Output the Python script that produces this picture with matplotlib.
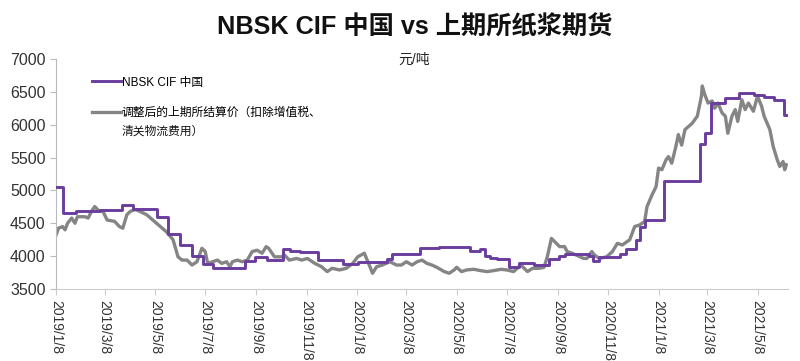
import pandas as pd
import matplotlib
matplotlib.use("Agg")
import matplotlib.pyplot as plt

plt.rcParams['font.family'] = ['Liberation Sans', 'Noto Sans CJK SC', 'DejaVu Sans']

# NBSK CIF 中国 (周度报价, 阶梯线)
nbsk_dates = ['2019-01-08', '2019-01-16', '2019-02-01', '2019-02-18', '2019-03-02',
              '2019-03-29', '2019-04-11', '2019-05-10', '2019-05-24', '2019-06-07',
              '2019-06-22', '2019-07-05', '2019-07-18', '2019-08-25', '2019-09-06',
              '2019-09-21', '2019-10-10', '2019-10-19', '2019-10-31', '2019-11-22',
              '2019-12-22', '2020-01-09', '2020-02-13', '2020-02-20', '2020-03-24',
              '2020-04-17', '2020-05-24', '2020-06-05', '2020-06-11', '2020-06-17',
              '2020-06-26', '2020-07-11', '2020-07-23', '2020-08-10', '2020-08-28',
              '2020-09-09', '2020-09-17', '2020-10-16', '2020-10-20', '2020-10-28',
              '2020-11-22', '2020-11-30', '2020-12-12', '2020-12-17', '2020-12-22',
              '2021-01-15', '2021-02-27', '2021-03-05', '2021-03-12', '2021-03-29',
              '2021-04-16', '2021-05-04', '2021-05-16', '2021-05-28', '2021-06-09',
              '2021-06-12']
nbsk_vals = [5050, 4660, 4690, 4680, 4700,
             4780, 4710, 4600, 4330, 4170,
             4000, 3880, 3820, 3920, 3980,
             3940, 4110, 4080, 4060, 3940,
             3880, 3910, 3950, 4040, 4120,
             4145, 4080, 4110, 4000, 3970,
             3950, 3830, 3890, 3870, 3950,
             4000, 4030, 4000, 3920, 3990,
             4030, 4110, 4250, 4450, 4550,
             5140, 5700, 5870, 6330, 6400,
             6490, 6450, 6420, 6380, 6150,
             6150]

# 调整后的上期所结算价
shfe_dates = ['2019-01-08', '2019-01-11', '2019-01-16', '2019-01-19', '2019-01-22',
              '2019-01-27', '2019-01-31', '2019-02-03', '2019-02-12', '2019-02-16',
              '2019-02-20', '2019-02-24', '2019-02-28', '2019-03-06', '2019-03-11',
              '2019-03-20', '2019-03-26', '2019-03-30', '2019-04-04', '2019-04-08',
              '2019-04-14', '2019-04-20', '2019-04-28', '2019-05-10', '2019-05-22',
              '2019-05-30', '2019-06-05', '2019-06-10', '2019-06-16', '2019-06-22',
              '2019-06-28', '2019-07-04', '2019-07-08', '2019-07-11', '2019-07-17',
              '2019-07-23', '2019-07-28', '2019-08-03', '2019-08-07', '2019-08-10',
              '2019-08-16', '2019-08-22', '2019-08-28', '2019-09-03', '2019-09-09',
              '2019-09-15', '2019-09-20', '2019-09-23', '2019-09-30', '2019-10-09',
              '2019-10-12', '2019-10-18', '2019-10-27', '2019-11-02', '2019-11-09',
              '2019-11-18', '2019-11-26', '2019-12-03', '2019-12-09', '2019-12-18',
              '2019-12-26', '2020-01-03', '2020-01-09', '2020-01-17', '2020-01-23',
              '2020-01-27', '2020-02-01', '2020-02-08', '2020-02-17', '2020-02-25',
              '2020-03-02', '2020-03-08', '2020-03-15', '2020-03-21', '2020-03-27',
              '2020-04-02', '2020-04-08', '2020-04-14', '2020-04-23', '2020-04-29',
              '2020-05-05', '2020-05-08', '2020-05-14', '2020-05-20', '2020-05-29',
              '2020-06-06', '2020-06-14', '2020-06-22', '2020-07-01', '2020-07-08',
              '2020-07-16', '2020-07-25', '2020-08-02', '2020-08-08', '2020-08-16',
              '2020-08-22', '2020-08-26', '2020-08-31', '2020-09-04', '2020-09-10',
              '2020-09-16', '2020-09-19', '2020-09-25', '2020-10-09', '2020-10-13',
              '2020-10-19', '2020-10-22', '2020-10-28', '2020-11-06', '2020-11-13',
              '2020-11-19', '2020-11-25', '2020-12-04', '2020-12-10', '2020-12-16',
              '2020-12-22', '2020-12-25', '2020-12-31', '2021-01-05', '2021-01-08',
              '2021-01-12', '2021-01-17', '2021-01-20', '2021-01-24', '2021-01-29',
              '2021-02-01', '2021-02-05', '2021-02-09', '2021-02-18', '2021-02-24',
              '2021-03-01', '2021-03-02', '2021-03-05', '2021-03-09', '2021-03-14',
              '2021-03-17', '2021-03-21', '2021-03-26', '2021-03-30', '2021-04-02',
              '2021-04-07', '2021-04-11', '2021-04-14', '2021-04-19', '2021-04-23',
              '2021-04-27', '2021-05-03', '2021-05-08', '2021-05-13', '2021-05-16',
              '2021-05-23', '2021-05-27', '2021-06-01', '2021-06-04', '2021-06-08',
              '2021-06-10', '2021-06-12']
shfe_vals = [4320, 4425, 4450, 4400, 4500,
             4580, 4500, 4600, 4600, 4580,
             4680, 4755, 4700, 4680, 4550,
             4530, 4450, 4425, 4630, 4680,
             4710, 4680, 4630, 4500, 4370,
             4250, 3990, 3940, 3940, 3865,
             3915, 4120, 4070, 3890, 3915,
             3940, 3890, 3915, 3840, 3915,
             3940, 3915, 3940, 4070, 4090,
             4045, 4145, 4120, 3990, 3990,
             4020, 3940, 3965, 3940, 3965,
             3890, 3840, 3765, 3815, 3790,
             3815, 3890, 3990, 4045, 3865,
             3740, 3840, 3865, 3915, 3865,
             3865, 3915, 3865, 3915, 3940,
             3890, 3865, 3830, 3765, 3740,
             3790, 3830, 3765, 3790, 3800,
             3780, 3765, 3780, 3800, 3790,
             3765, 3865, 3765, 3815, 3815,
             3830, 3990, 4270, 4220, 4145,
             4145, 4070, 4045, 3965, 3965,
             4070, 4020, 3965, 3990, 4070,
             4195, 4170, 4250, 4450, 4475,
             4525, 4755, 4930, 5060, 5340,
             5315, 5465, 5515, 5415, 5670,
             5850, 5690, 5925, 6025, 6130,
             6435, 6590, 6460, 6330, 6360,
             6250, 6330, 6180, 6130, 5870,
             6130, 6230, 6050, 6380, 6230,
             6330, 6205, 6435, 6280, 6130,
             5925, 5670, 5465, 5365, 5440,
             5315, 5390]

tick_dates = ['2019-01-08', '2019-03-08', '2019-05-08', '2019-07-08', '2019-09-08',
              '2019-11-08', '2020-01-08', '2020-03-08', '2020-05-08', '2020-07-08',
              '2020-09-08', '2020-11-08', '2021-01-08', '2021-03-08', '2021-05-08']
tick_labels = ['2019/1/8', '2019/3/8', '2019/5/8', '2019/7/8', '2019/9/8',
               '2019/11/8', '2020/1/8', '2020/3/8', '2020/5/8', '2020/7/8',
               '2020/9/8', '2020/11/8', '2021/1/8', '2021/3/8', '2021/5/8']
y_ticks = [3500, 4000, 4500, 5000, 5500, 6000, 6500, 7000]

purple = '#6a3d9e'
grey = '#858585'

fig = plt.figure(figsize=(8, 3.61), dpi=100)
ax = fig.add_axes([0.07, 0.1994, 0.915, 0.6372])

ax.plot(pd.to_datetime(nbsk_dates), nbsk_vals, drawstyle='steps-post',
        color=purple, lw=2.1, label='NBSK CIF 中国', zorder=3)
ax.plot(pd.to_datetime(shfe_dates), shfe_vals, color=grey, lw=2.4,
        label='调整后的上期所结算价（扣除增值税、', zorder=2)

ax.set_ylim(3500, 7000)
ax.set_yticks(y_ticks)
ax.set_xlim(pd.Timestamp('2019-01-08'), pd.Timestamp('2021-06-14'))
ax.set_xticks(pd.to_datetime(tick_dates))
ax.set_xticklabels(tick_labels, rotation=270, fontsize=10, color='#333333')
ax.tick_params(axis='y', labelsize=11.5, colors='#333333', length=4, color='#bbbbbb')
ax.tick_params(axis='x', length=4, color='#cccccc', pad=4)

for s in ['top', 'right']:
    ax.spines[s].set_visible(False)
ax.spines['left'].set_color('#bbbbbb')
ax.spines['bottom'].set_color('#cccccc')

# 图例 (第二条标签的第二行单独写出, 让线段对齐第一行)
leg = ax.legend(loc='upper left', bbox_to_anchor=(0.035, 0.97), frameon=False,
                fontsize=8.5, handlelength=2.4, handletextpad=0.1,
                labelspacing=1.55)
fig.text(0.1515, 0.636, '清关物流费用）', ha='left', va='center', fontsize=8.5,
         color='#111111')

fig.text(0.519, 0.923, 'NBSK CIF 中国 vs 上期所纸浆期货', ha='center', va='center',
         fontsize=18.2, fontweight='bold', color='#111111')
fig.text(0.498, 0.835, '元/吨', ha='left', va='center', fontsize=10, color='#222222')

fig.savefig('out.png', dpi=100)
